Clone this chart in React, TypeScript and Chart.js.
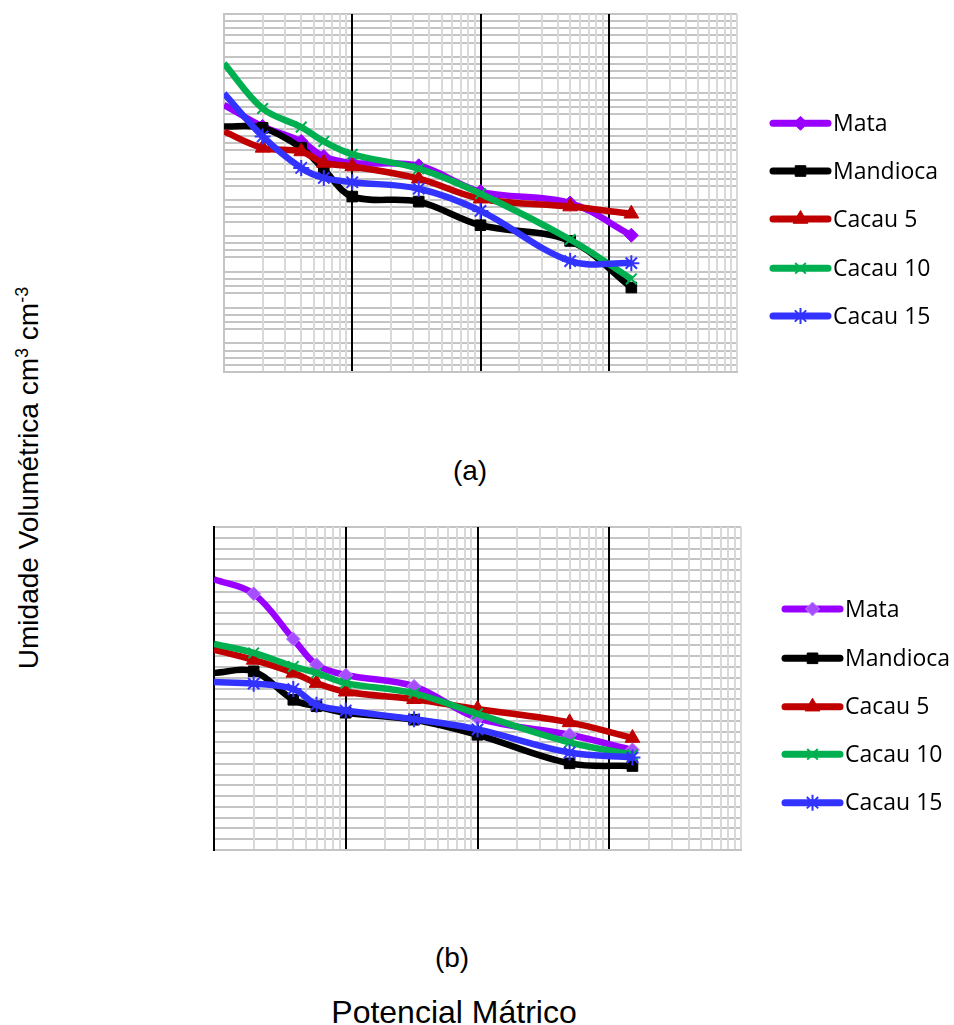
import React, { useEffect, useRef } from 'react';
import { Chart, registerables } from 'chart.js';
import { drawPoint } from 'chart.js/helpers';

Chart.register(...registerables);

// ---------------- DATA ----------------
const SERIES_NAMES = ['Mata', 'Mandioca', 'Cacau 5', 'Cacau 10', 'Cacau 15'];
const POTENCIAL_KPA = [1, 2, 4, 6, 10, 33, 100, 500, 1500];

// Panel (a)
const A_MATA = [0.373, 0.343, 0.322, 0.301, 0.292, 0.288, 0.252, 0.236, 0.191];
const A_MANDIOCA = [0.343, 0.341, 0.313, 0.283, 0.245, 0.238, 0.205, 0.183, 0.118];
const A_CACAU5 = [0.336, 0.313, 0.308, 0.292, 0.287, 0.27, 0.242, 0.231, 0.221];
const A_CACAU10 = [0.431, 0.368, 0.342, 0.322, 0.304, 0.284, 0.249, 0.185, 0.13];
const A_CACAU15 = [0.389, 0.329, 0.285, 0.271, 0.265, 0.256, 0.225, 0.155, 0.152];

// Panel (b)
const B_MATA = [0.503, 0.476, 0.392, 0.344, 0.325, 0.304, 0.245, 0.214, 0.186];
const B_MANDIOCA = [0.329, 0.332, 0.279, 0.267, 0.255, 0.242, 0.214, 0.161, 0.156];
const B_CACAU5 = [0.372, 0.353, 0.329, 0.31, 0.294, 0.28, 0.262, 0.237, 0.208];
const B_CACAU10 = [0.383, 0.366, 0.341, 0.329, 0.31, 0.291, 0.253, 0.2, 0.177];
const B_CACAU15 = [0.312, 0.309, 0.299, 0.27, 0.259, 0.243, 0.224, 0.181, 0.172];

// Axis ranges / gridlines
const X_MIN = 1;
const X_MAX = 10000;
const X_GRID: number[] = [];
for (let d = 1; d < X_MAX; d *= 10) for (let k = 1; k < 10; k++) X_GRID.push(k * d);
X_GRID.push(X_MAX);

const A_Y_MAX = 0.5;
const A_Y_STEPS = 50; // minor step 0.01
const B_Y_MAX = 0.6;
const B_Y_STEPS = 30; // step 0.02

// ---------------- STYLES ----------------
const SERIES_STYLE = [
  { color: '#9900FF', pointStyle: 'rectRot', radius: 7, bw: 1 },
  { color: '#000000', pointStyle: 'rect', radius: 7.5, bw: 1 },
  { color: '#C00000', pointStyle: 'triangle', radius: 8.5, bw: 1 },
  { color: '#00B050', pointStyle: 'crossRot', radius: 7.5, bw: 2 },
  { color: '#3333FF', pointStyle: 'star', radius: 8, bw: 2 },
];

type LegendLayout = { x1: number; x2: number; textX: number; ys: number[] };

function legendPlugin(layout: LegendLayout, markerFill: string[], markerBorder: string[]) {
  return {
    id: 'customLegend',
    afterDraw(chart: any) {
      const ctx = chart.ctx as CanvasRenderingContext2D;
      ctx.save();
      SERIES_NAMES.forEach((name, i) => {
        const st = SERIES_STYLE[i];
        const y = layout.ys[i];
        ctx.strokeStyle = st.color;
        ctx.lineWidth = 7;
        ctx.lineCap = 'round';
        ctx.beginPath();
        ctx.moveTo(layout.x1, y);
        ctx.lineTo(layout.x2, y);
        ctx.stroke();
        ctx.lineCap = 'butt';
        ctx.fillStyle = markerFill[i];
        ctx.strokeStyle = markerBorder[i];
        ctx.lineWidth = st.bw;
        drawPoint(ctx, { pointStyle: st.pointStyle, radius: st.radius, rotation: 0, borderWidth: st.bw } as any, (layout.x1 + layout.x2) / 2, y);
        ctx.fillStyle = '#000000';
        ctx.font = '23px "Open Sans"';
        ctx.textBaseline = 'middle';
        ctx.textAlign = 'left';
        ctx.fillText(name, layout.textX, y + 1);
      });
      ctx.restore();
    },
  };
}

function buildChart(
  canvas: HTMLCanvasElement,
  series: number[][],
  yMax: number,
  ySteps: number,
  hideMajorY: boolean,
  leftBorder: string,
  padding: { left: number; right: number; top: number; bottom: number },
  legend: LegendLayout,
  markerFill: string[],
  markerBorder: string[]
) {
  const yGrid: number[] = [];
  for (let i = 0; i <= ySteps; i++) yGrid.push((i * yMax) / ySteps);

  const datasets = series.map((vals, i) => {
    const st = SERIES_STYLE[i];
    return {
      label: SERIES_NAMES[i],
      data: POTENCIAL_KPA.map((x, j) => ({ x, y: vals[j] })),
      borderColor: st.color,
      backgroundColor: st.color,
      borderWidth: 6.5,
      tension: 0.35,
      pointStyle: st.pointStyle,
      pointRadius: POTENCIAL_KPA.map((_, j) => (j === 0 ? 0 : st.radius)),
      pointBackgroundColor: markerFill[i],
      pointBorderColor: markerBorder[i],
      pointBorderWidth: st.bw,
      order: series.length - i,
      fill: false,
    };
  });

  const isDecadeLine = (v: number) => {
    const lg = Math.log10(v);
    return Math.abs(lg - Math.round(lg)) < 1e-9 && v !== X_MIN && v !== X_MAX;
  };

  return new Chart(canvas, {
    type: 'line',
    data: { datasets },
    options: {
      responsive: false,
      animation: false,
      layout: { padding },
      plugins: { legend: { display: false }, tooltip: { enabled: false } },
      events: [],
      scales: {
        x: {
          type: 'logarithmic',
          min: X_MIN,
          max: X_MAX,
          afterBuildTicks: (scale: any) => {
            scale.ticks = X_GRID.map((v) => ({ value: v }));
          },
          ticks: { display: false },
          grid: {
            z: -1,
            drawTicks: false,
            lineWidth: 2,
            color: (c: any) => {
              const v = c.tick ? c.tick.value : 0;
              if (isDecadeLine(v)) return '#000000';
              if (v === X_MIN) return leftBorder;
              return '#D9D9D9';
            },
          },
          border: { color: '#C4C4C4', width: 2 },
        },
        y: {
          type: 'linear',
          min: 0,
          max: yMax,
          afterBuildTicks: (scale: any) => {
            scale.ticks = yGrid.map((v) => ({ value: v }));
          },
          ticks: { display: false },
          grid: {
            z: -2,
            drawTicks: false,
            lineWidth: 2,
            color: (c: any) => {
              const idx = c.index;
              if (hideMajorY && idx % 5 === 0 && idx !== 0 && idx !== ySteps) return 'rgba(0,0,0,0)';
              return '#C4C4C4';
            },
          },
          border: { color: leftBorder, width: 2 },
        },
      },
    },
    plugins: [legendPlugin(legend, markerFill, markerBorder)],
  } as any);
}

export default function App() {
  const refA = useRef<HTMLCanvasElement>(null);
  const refB = useRef<HTMLCanvasElement>(null);

  useEffect(() => {
    const colors = SERIES_STYLE.map((s) => s.color);
    const chartA = buildChart(
      refA.current!,
      [A_MATA, A_MANDIOCA, A_CACAU5, A_CACAU10, A_CACAU15],
      A_Y_MAX,
      A_Y_STEPS,
      true,
      '#C4C4C4',
      { left: 24, top: 14, right: 217, bottom: 28 },
      { x1: 573, x2: 628, textX: 633, ys: [123.3, 171, 219, 268.3, 316] },
      colors,
      colors
    );
    const fillB = ['#A64DFF', '#000000', '#C00000', '#00B050', '#3333FF'];
    const borderB = ['#B98CFF', '#000000', '#C00000', '#00B050', '#3333FF'];
    const chartB = buildChart(
      refB.current!,
      [B_MATA, B_MANDIOCA, B_CACAU5, B_CACAU10, B_CACAU15],
      B_Y_MAX,
      B_Y_STEPS,
      false,
      '#000000',
      { left: 14, top: 27, right: 213, bottom: 20 },
      { x1: 585, x2: 640, textX: 645, ys: [109, 158.3, 206.7, 254.3, 302.7] },
      fillB,
      borderB
    );
    return () => {
      chartA.destroy();
      chartB.destroy();
    };
  }, []);

  const textFont = '"Liberation Sans", Arial, sans-serif';

  return (
    <div style={{ position: 'absolute', left: 0, top: 0, width: 954, height: 1025, overflow: 'hidden', background: '#fff', fontFamily: textFont }}>
      <canvas ref={refA} width={754} height={400} style={{ position: 'absolute', left: 200, top: 0, width: 754, height: 400 }} />
      <canvas ref={refB} width={754} height={370} style={{ position: 'absolute', left: 200, top: 500, width: 754, height: 370 }} />
      <div style={{ position: 'absolute', left: 28, top: 478, transform: 'translate(-50%, -50%) rotate(-90deg)', whiteSpace: 'nowrap', fontSize: 28, lineHeight: 1, color: '#000' }}>
        Umidade Volumétrica cm<sup style={{ fontSize: 18, verticalAlign: 'super' }}>3</sup> cm<sup style={{ fontSize: 18, verticalAlign: 'super' }}>-3</sup>
      </div>
      <div style={{ position: 'absolute', left: 470, top: 471, transform: 'translate(-50%, -50%)', fontSize: 28, lineHeight: 1, whiteSpace: 'nowrap' }}>(a)</div>
      <div style={{ position: 'absolute', left: 452, top: 958, transform: 'translate(-50%, -50%)', fontSize: 28, lineHeight: 1, whiteSpace: 'nowrap' }}>(b)</div>
      <div style={{ position: 'absolute', left: 454, top: 1012, transform: 'translate(-50%, -50%)', fontSize: 32, lineHeight: 1, whiteSpace: 'nowrap' }}>Potencial Mátrico</div>
    </div>
  );
}
